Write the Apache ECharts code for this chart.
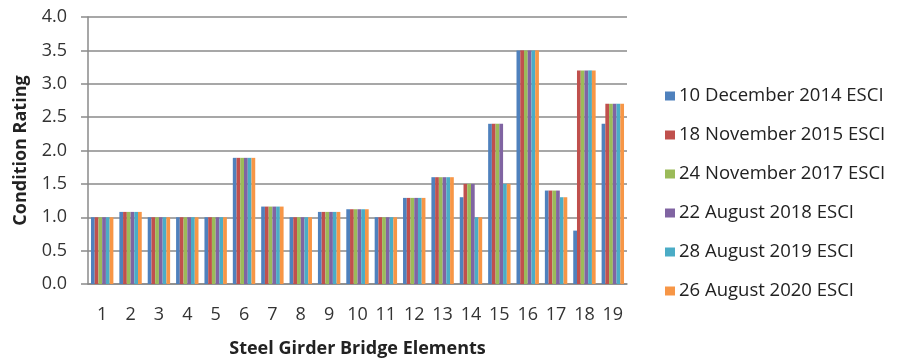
<!DOCTYPE html>
<html>
<head>
<meta charset="utf-8">
<script src="https://cdn.jsdelivr.net/npm/echarts@6/dist/echarts.min.js"></script>
<style>
  html, body { margin: 0; padding: 0; background: #fff; overflow: hidden; }
  #chart { width: 100vw; height: 100vh; }
</style>
</head>
<body>
<div id="chart"></div>
<script>
// Bridge elements along the x axis
const elements = ['1','2','3','4','5','6','7','8','9','10','11','12','13','14','15','16','17','18','19'];

// Inspection dates (legend entries)
const surveyNames = [
  '10 December 2014 ESCI',
  '18 November 2015 ESCI',
  '24 November 2017 ESCI',
  '22 August 2018 ESCI',
  '28 August 2019 ESCI',
  '26 August 2020 ESCI'
];

// Condition rating per element for each inspection
const dec2014 = [1.0, 1.08, 1.0, 1.0, 1.0, 1.89, 1.16, 1.0, 1.08, 1.12, 1.0, 1.29, 1.6, 1.3, 2.4, 3.5, 1.4, 0.8, 2.4];
const nov2015 = [1.0, 1.08, 1.0, 1.0, 1.0, 1.89, 1.16, 1.0, 1.08, 1.12, 1.0, 1.29, 1.6, 1.5, 2.4, 3.5, 1.4, 3.2, 2.7];
const nov2017 = [1.0, 1.08, 1.0, 1.0, 1.0, 1.89, 1.16, 1.0, 1.08, 1.12, 1.0, 1.29, 1.6, 1.5, 2.4, 3.5, 1.4, 3.2, 2.7];
const aug2018 = [1.0, 1.08, 1.0, 1.0, 1.0, 1.89, 1.16, 1.0, 1.08, 1.12, 1.0, 1.29, 1.6, 1.5, 2.4, 3.5, 1.4, 3.2, 2.7];
const aug2019 = [1.0, 1.08, 1.0, 1.0, 1.0, 1.89, 1.16, 1.0, 1.08, 1.12, 1.0, 1.29, 1.6, 1.0, 1.5, 3.5, 1.3, 3.2, 2.7];
const aug2020 = [1.0, 1.08, 1.0, 1.0, 1.0, 1.89, 1.16, 1.0, 1.08, 1.12, 1.0, 1.29, 1.6, 1.0, 1.5, 3.5, 1.3, 3.2, 2.7];

// Y axis tick range
const yMin = 0, yMax = 4, yStep = 0.5;

const seriesData = [dec2014, nov2015, nov2017, aug2018, aug2019, aug2020];
const palette = ['#4F81BD', '#C0504D', '#9BBB59', '#8064A2', '#4BACC6', '#F79646'];
const fontFamily = '"Open Sans", "Noto Sans", sans-serif';

const chart = echarts.init(document.getElementById('chart'), null, { renderer: 'canvas' });

chart.setOption({
  animation: false,
  color: palette,
  grid: { left: 88, right: 270, top: 17, bottom: 65, containLabel: false },
  legend: {
    orient: 'vertical',
    left: 660,
    top: 81,
    itemWidth: 10,
    itemHeight: 9,
    itemGap: 19,
    icon: 'rect',
    textStyle: { fontFamily: fontFamily, fontSize: 18.5, color: '#222', lineHeight: 20, padding: [0, 0, 0, -1] },
    data: surveyNames
  },
  xAxis: {
    type: 'category',
    data: elements,
    name: 'Steel Girder Bridge Elements',
    nameLocation: 'middle',
    nameGap: 56,
    nameTextStyle: { fontFamily: fontFamily, fontSize: 18, fontWeight: 'bold', color: '#222' },
    axisLine: { lineStyle: { color: '#8a8a8a', width: 1.5 } },
    axisTick: { show: false },
    axisLabel: { fontFamily: fontFamily, fontSize: 18, color: '#333', margin: 22, interval: 0 }
  },
  yAxis: {
    type: 'value',
    min: yMin,
    max: yMax,
    interval: yStep,
    name: 'Condition Rating',
    nameLocation: 'middle',
    nameGap: 58,
    nameTextStyle: { fontFamily: fontFamily, fontSize: 18, fontWeight: 'bold', color: '#222' },
    axisLine: { show: true, lineStyle: { color: '#8a8a8a', width: 1.5 } },
    axisTick: { show: true, length: 7, lineStyle: { color: '#8a8a8a', width: 1.5 } },
    axisLabel: { fontFamily: fontFamily, fontSize: 18, color: '#333', margin: 21, formatter: v => v.toFixed(1) },
    splitLine: { lineStyle: { color: '#8a8a8a', width: 1.5 } }
  },
  series: seriesData.map((vals, i) => ({
    name: surveyNames[i],
    type: 'bar',
    data: vals,
    barGap: '0%',
    barCategoryGap: '21%'
  }))
});
</script>
</body>
</html>
